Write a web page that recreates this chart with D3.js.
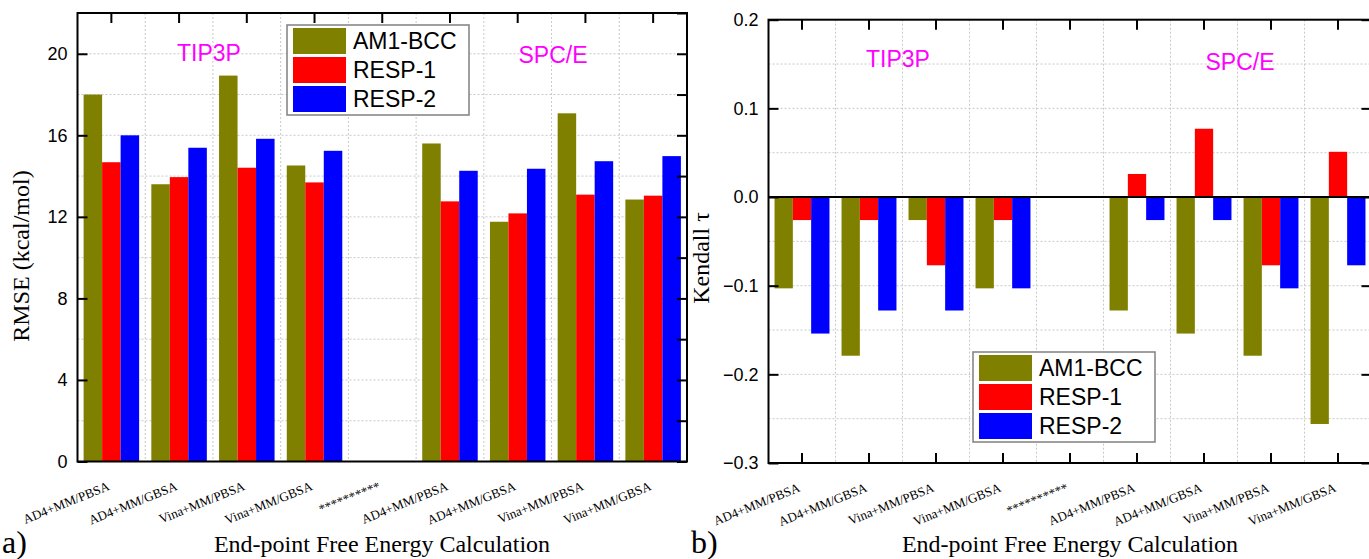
<!DOCTYPE html>
<html>
<head>
<meta charset="utf-8">
<script src="https://cdn.jsdelivr.net/npm/d3@7"></script>
<style>
  body { margin: 0; background: #fff; }
  svg { display: block; }
  .grid line { stroke: #c8c8c8; stroke-dasharray: 2,2; stroke-width: 1; }
  .tick text { font-family: Arial, "Liberation Sans", sans-serif; font-size: 18px; fill: #000; }
  .xlab text { font-family: "Times New Roman", "Liberation Serif", serif; font-size: 13px; fill: #000; }
  .title { font-family: "Times New Roman", "Liberation Serif", serif; font-size: 24px; fill: #000; }
  .solvent { font-family: Arial, "Liberation Sans", sans-serif; font-size: 23px; fill: #ff00ff; }
  .legend text { font-family: Arial, "Liberation Sans", sans-serif; font-size: 23px; fill: #000; }
</style>
</head>
<body>
<svg id="chart" width="1369" height="559"></svg>
<script>
// Categories (x axis)
const categories = ['AD4+MM/PBSA', 'AD4+MM/GBSA', 'Vina+MM/PBSA', 'Vina+MM/GBSA', '**********',
  'AD4+MM/PBSA', 'AD4+MM/GBSA', 'Vina+MM/PBSA', 'Vina+MM/GBSA'];
const series = ['AM1-BCC', 'RESP-1', 'RESP-2'];
const colors = ['#808000', '#ff0000', '#0000ff'];

// Panel a) RMSE (kcal/mol)
const rmseAM1 = [18.0, 13.6, 18.93, 14.52, null, 15.6, 11.76, 17.08, 12.85];
const rmseRESP1 = [14.68, 13.95, 14.41, 13.69, null, 12.76, 12.17, 13.09, 13.04];
const rmseRESP2 = [16.0, 15.39, 15.83, 15.24, null, 14.26, 14.36, 14.73, 14.98];

// Panel b) Kendall tau
const tauAM1 = [-0.103, -0.179, -0.026, -0.103, null, -0.128, -0.154, -0.179, -0.256];
const tauRESP1 = [-0.026, -0.026, -0.077, -0.026, null, 0.026, 0.077, -0.077, 0.051];
const tauRESP2 = [-0.154, -0.128, -0.128, -0.103, null, -0.026, -0.026, -0.103, -0.077];

const rmseTicks = [0, 4, 8, 12, 16, 20];
const tauTicks = [0.2, 0.1, 0.0, -0.1, -0.2, -0.3];

const svg = d3.select('#chart');

function drawPanel(opt) {
  const { left, right, top, bottom, domain, values, gridStep, leftTicks, rightTicks, tickFmt } = opt;
  const g = svg.append('g');
  const idx = categories.map((d, i) => i);

  const x0 = d3.scaleBand().domain(idx).range([left, right]).padding(0);
  const x1 = d3.scaleBand().domain(series).range([0, x0.bandwidth()]).paddingInner(0).paddingOuter(0.33);
  const y = d3.scaleLinear().domain(domain).range([bottom, top]);

  // grid
  const grid = g.append('g').attr('class', 'grid');
  const gv = d3.range(domain[0], domain[1] + gridStep / 2, gridStep);
  grid.selectAll('.h').data(gv).enter().append('line')
    .attr('x1', left).attr('x2', right)
    .attr('y1', d => y(d)).attr('y2', d => y(d));
  grid.selectAll('.v').data(idx.slice(1)).enter().append('line')
    .attr('x1', d => x0(d)).attr('x2', d => x0(d))
    .attr('y1', top).attr('y2', bottom);

  // bars
  const rows = idx.map(i => series.map((s, k) => ({ i, s, k, v: values[k][i] })));
  g.selectAll('.grp').data(rows).enter().append('g')
    .attr('transform', r => `translate(${x0(r[0].i)},0)`)
    .selectAll('rect').data(r => r.filter(d => d.v != null)).enter().append('rect')
    .attr('x', d => x1(d.s))
    .attr('width', x1.bandwidth())
    .attr('y', d => y(Math.max(0, d.v)))
    .attr('height', d => Math.abs(y(d.v) - y(0)))
    .attr('fill', d => colors[d.k]);

  // zero line
  if (domain[0] < 0) {
    g.append('line').attr('x1', left).attr('x2', right)
      .attr('y1', y(0)).attr('y2', y(0))
      .attr('stroke', '#000').attr('stroke-width', 2);
  }

  // axes
  const yl = g.append('g').attr('transform', `translate(${left},0)`)
    .call(d3.axisLeft(y).tickValues(leftTicks).tickFormat(tickFmt).tickSize(-10).tickSizeOuter(0).tickPadding(10));
  yl.select('.domain').remove();
  yl.selectAll('.tick line').attr('stroke-width', 2);
  yl.selectAll('.tick text').attr('fill', '#000');

  const yr = g.append('g').attr('transform', `translate(${right},0)`)
    .call(d3.axisRight(y).tickValues(rightTicks).tickFormat('').tickSize(-10).tickSizeOuter(0));
  yr.select('.domain').remove();
  yr.selectAll('.tick line').attr('stroke-width', 2);

  const xt = g.append('g').attr('transform', `translate(0,${top})`)
    .call(d3.axisTop(x0).tickFormat('').tickSize(-10).tickSizeOuter(0));
  xt.select('.domain').remove();
  xt.selectAll('.tick line').attr('stroke-width', 2);

  const xb = g.append('g').attr('transform', `translate(0,${bottom})`)
    .call(d3.axisBottom(x0).tickFormat('').tickSize(opt.bottomTicks ? -10 : 0).tickSizeOuter(0));
  xb.select('.domain').remove();
  xb.selectAll('.tick line').attr('stroke-width', 2);

  // rotated category labels
  g.append('g').attr('class', 'xlab').selectAll('text').data(idx).enter().append('text')
    .attr('text-anchor', 'end')
    .attr('transform', d => `translate(${x0(d) + x0.bandwidth() / 2 - 1},${bottom + 28}) rotate(-22)`)
    .text(d => categories[d]);

  // frame
  g.append('rect').attr('x', left).attr('y', top)
    .attr('width', right - left).attr('height', bottom - top)
    .attr('fill', 'none').attr('stroke', '#000').attr('stroke-width', 2);

  return { x0, y, g };
}

function legend(x, y) {
  const lg = svg.append('g').attr('class', 'legend').attr('transform', `translate(${x},${y})`);
  lg.append('rect').attr('width', 182).attr('height', 90)
    .attr('fill', '#fff').attr('stroke', '#808080').attr('stroke-width', 1.5);
  series.forEach((s, k) => {
    lg.append('rect').attr('x', 6).attr('y', 3 + k * 29).attr('width', 53).attr('height', 26).attr('fill', colors[k]);
    lg.append('text').attr('x', 66).attr('y', 24 + k * 29).text(s);
  });
}

// panel a
drawPanel({
  left: 77.5, right: 687, top: 13, bottom: 461.5,
  domain: [0, 22], values: [rmseAM1, rmseRESP1, rmseRESP2], gridStep: 2,
  leftTicks: rmseTicks, rightTicks: d3.range(0, 23, 2), tickFmt: d3.format('d'), bottomTicks: false
});
svg.append('text').attr('class', 'solvent').attr('x', 209).attr('y', 61).attr('text-anchor', 'middle').text('TIP3P');
svg.append('text').attr('class', 'solvent').attr('x', 553).attr('y', 63).attr('text-anchor', 'middle').text('SPC/E');
legend(287, 25);
svg.append('text').attr('class', 'title').attr('transform', 'translate(29,256) rotate(-90)')
  .attr('text-anchor', 'middle').text('RMSE (kcal/mol)');
svg.append('text').attr('class', 'title').attr('x', 382).attr('y', 552).attr('text-anchor', 'middle')
  .text('End-point Free Energy Calculation');
svg.append('text').attr('class', 'title').attr('x', 2).attr('y', 553).style('font-size', '32px').text('a)');

// panel b
drawPanel({
  left: 768.5, right: 1371.5, top: 19.7, bottom: 463,
  domain: [-0.3, 0.2], values: [tauAM1, tauRESP1, tauRESP2], gridStep: 0.05,
  leftTicks: tauTicks, rightTicks: tauTicks, tickFmt: d3.format('.1f'), bottomTicks: true
});
svg.append('text').attr('class', 'solvent').attr('x', 898).attr('y', 67).attr('text-anchor', 'middle').text('TIP3P');
svg.append('text').attr('class', 'solvent').attr('x', 1240).attr('y', 70).attr('text-anchor', 'middle').text('SPC/E');
legend(973, 352);
svg.append('text').attr('class', 'title').attr('transform', 'translate(709,258) rotate(-90)')
  .attr('text-anchor', 'middle').text('Kendall τ');
svg.append('text').attr('class', 'title').attr('x', 1070).attr('y', 552).attr('text-anchor', 'middle')
  .text('End-point Free Energy Calculation');
svg.append('text').attr('class', 'title').attr('x', 691).attr('y', 553).style('font-size', '32px').text('b)');
</script>
</body>
</html>
